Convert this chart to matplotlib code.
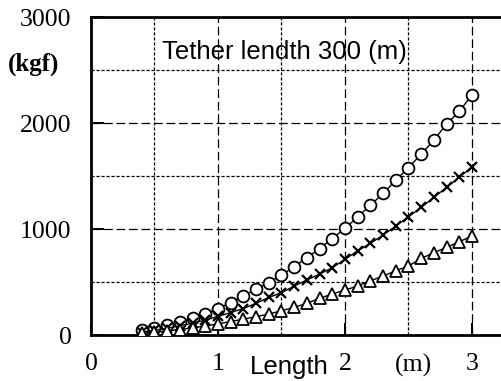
import matplotlib
matplotlib.use("Agg")
import matplotlib.pyplot as plt
from matplotlib.ticker import MultipleLocator
from matplotlib.transforms import blended_transform_factory


# ===============================
# DATA
# ===============================
length_m = [0.4, 0.5, 0.6, 0.7, 0.8, 0.9, 1.0, 1.1, 1.2, 1.3, 1.4, 1.5, 1.6, 1.7,
            1.8, 1.9, 2.0, 2.1, 2.2, 2.3, 2.4, 2.5, 2.6, 2.7, 2.8, 2.9, 3.0]

force_circle = [45, 65, 90, 120, 160, 200, 250, 305, 370, 430, 495, 565, 645, 730,
                815, 910, 1005, 1115, 1225, 1335, 1460, 1580, 1705, 1840, 1990, 2110, 2265]
force_cross = [28, 44, 63, 86, 112, 142, 175, 212, 250, 299, 355, 399, 462, 519,
               575, 635, 714, 795, 865, 943, 1028, 1116, 1204, 1298, 1393, 1487, 1587]
force_triangle = [17, 26, 38, 51, 67, 85, 105, 127, 150, 173, 198, 229, 261, 299,
                  346, 387, 424, 462, 512, 556, 606, 651, 723, 776, 827, 880, 934]

x_ticks = [0, 1, 2, 3]
y_ticks = [0, 1000, 2000, 3000]

SERIF = ["Liberation Serif", "DejaVu Serif"]
SANS = ["Liberation Sans", "DejaVu Sans"]


# ===============================
# FIGURE
# ===============================
fig = plt.figure(figsize=(5.02, 3.81), dpi=100)
ax = fig.add_axes([91 / 502, 1 - 335 / 381, 411 / 502, 318 / 381])

ax.set_xlim(0, 411 / 127)
ax.set_ylim(0, 3000)

# grid: long dashes on majors, short dashes on minors
ax.xaxis.set_major_locator(MultipleLocator(1))
ax.xaxis.set_minor_locator(MultipleLocator(0.5))
ax.yaxis.set_major_locator(MultipleLocator(1000))
ax.yaxis.set_minor_locator(MultipleLocator(500))
ax.grid(which="major", color="black", linewidth=0.9, linestyle=(0, (7, 3)))
ax.grid(which="minor", color="black", linewidth=0.9, linestyle=(0, (2.5, 1.5)))
ax.set_axisbelow(True)

ax.plot(length_m, force_circle, color="black", linewidth=1.0, marker="o",
        markersize=8.5, markerfacecolor="white", markeredgecolor="black",
        markeredgewidth=1.3, zorder=3)
ax.plot(length_m, force_cross, color="black", linewidth=1.0, marker="x",
        markersize=7, markeredgewidth=1.6, zorder=3)
ax.plot(length_m, force_triangle, color="black", linewidth=1.0, marker="^",
        markersize=9, markerfacecolor="white", markeredgecolor="black",
        markeredgewidth=1.3, zorder=4)

# spines
for side in ["left", "top", "bottom"]:
    ax.spines[side].set_linewidth(2.0)
ax.spines["right"].set_linewidth(0.8)
ax.spines["right"].set_color("#bbbbbb")

# ticks
ax.set_xticks(x_ticks)
ax.set_yticks(y_ticks)
ax.tick_params(which="major", direction="in", length=9, width=1.4,
               top=False, right=False)
ax.tick_params(which="minor", length=0)
ax.tick_params(axis="x", pad=13)
ax.tick_params(axis="y", pad=14)
for lab in ax.get_xticklabels() + ax.get_yticklabels():
    lab.set_family(SERIF)
    lab.set_fontsize(18.5)

# texts
ax.text((162 - 91) / 411, (335 - 52) / 318, "Tether lendth 300 (m)",
        transform=ax.transAxes, fontsize=18.5, family=SANS,
        ha="left", va="center")

ax.text(-0.139, (335 - 64) / 318, "(kgf)", transform=ax.transAxes,
        fontsize=18, family=SERIF, fontweight="bold", ha="center", va="center")

trans = blended_transform_factory(ax.transData, ax.transAxes)
ax.text(1.56, (335 - 367) / 318, "Length", transform=trans, fontsize=18.5,
        family=SANS, ha="center", va="center")
ax.text(2.54, (335 - 365) / 318, "(m)", transform=trans, fontsize=18.5,
        family=SERIF, ha="center", va="center")

fig.savefig("out.png", dpi=100)
